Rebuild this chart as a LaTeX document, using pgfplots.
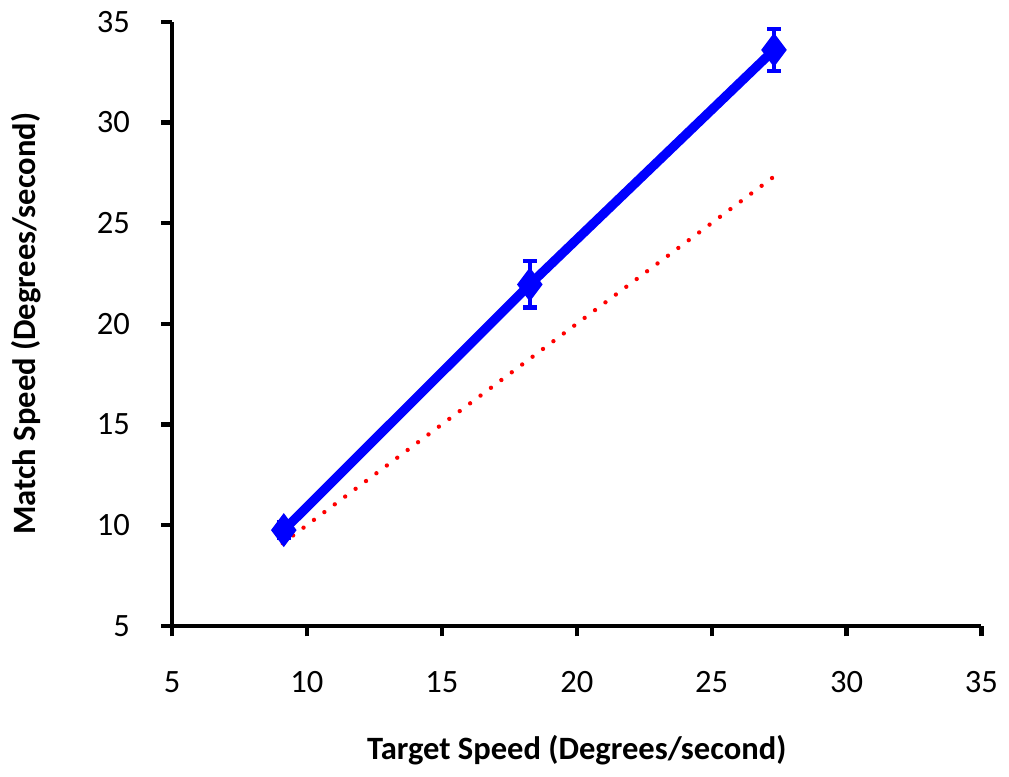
\documentclass[border=0pt]{standalone}
\usepackage{pgfplots}
\pgfplotsset{compat=1.18}
\usepackage{fontspec}
\setmainfont{Carlito}
\definecolor{matchblue}{HTML}{0000FF}
\definecolor{refred}{HTML}{FF0000}

\begin{document}
\begin{tikzpicture}
\begin{axis}[
  scale only axis,
  width=243.6pt, height=181.8pt,
  xmin=5, xmax=35, ymin=5, ymax=35,
  xtick={5,10,...,35}, ytick={5,10,...,35},
  axis lines=left,
  axis line style={line width=1.3pt, -},
  tick style={line width=1.3pt, black},
  tick align=outside, major tick length=3.2pt,
  font=\fontsize{9.8pt}{11pt}\selectfont,
  /pgf/number format/assume math mode=true,
  xticklabel style={yshift=-7pt},
  yticklabel style={xshift=-6pt},
  xlabel={\textbf{Target Speed (Degrees/second)}},
  ylabel={\textbf{Match Speed (Degrees/second)}},
  xlabel style={yshift=-6pt},
  ylabel style={yshift=10pt},
  clip=false,
]
% identity line
\addplot[refred, line width=1.3pt, line cap=round, dash pattern=on 0.01pt off 3.9pt]
  coordinates {(9.1,9.1) (27.3,27.3)};
% matched speeds
\addplot[matchblue, line width=2.8pt, mark=diamond*, mark size=2.8pt,
  mark options={solid},
  error bars/.cd, y dir=both, y explicit,
  error bar style={line width=1.3pt, matchblue},
  error mark options={rotate=90, mark size=2.1pt, line width=1.3pt, matchblue}]
  coordinates {
    (9.14, 9.75)  +- (0,0.4)
    (18.26, 21.95) +- (0,1.15)
    (27.31, 33.6) +- (0,1.05)
  };
\end{axis}
\end{tikzpicture}
\end{document}
